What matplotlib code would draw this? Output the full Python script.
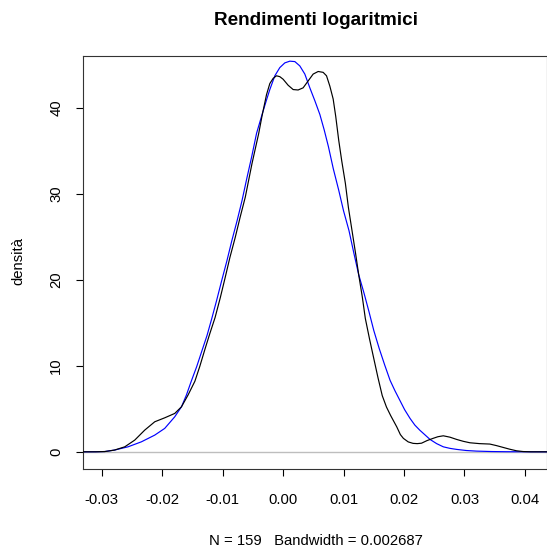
import matplotlib.pyplot as plt
import numpy as np

plt.rcParams['font.family'] = ['Liberation Sans', 'DejaVu Sans']

# kernel density of the log returns (black)
kde_x = [-0.0331, -0.0310, -0.0295, -0.0279, -0.0262, -0.02455, -0.0229, -0.02124,
         -0.01959, -0.01793, -0.01682, -0.01573, -0.0146, -0.0138, -0.0129, -0.0121,
         -0.01126, -0.0104, -0.0096, -0.0088, -0.00793, -0.0071, -0.00626, -0.00515,
         -0.00404, -0.0035, -0.00275, -0.0022, -0.00165, -0.0011, -0.00055, 0.0,
         0.00083, 0.00166, 0.00248, 0.00331, 0.00414, 0.00497, 0.0058, 0.00662,
         0.00718, 0.00773, 0.00828, 0.0087, 0.0092, 0.0097, 0.0103, 0.0108,
         0.0114, 0.0120, 0.0125, 0.0131, 0.0136, 0.0143, 0.0150, 0.0157,
         0.0164, 0.0171, 0.0178, 0.0188, 0.0194, 0.0199, 0.0207, 0.0215,
         0.0222, 0.0229, 0.0238, 0.0248, 0.0256, 0.0265, 0.0276, 0.0287,
         0.0298, 0.0309, 0.0325, 0.0342, 0.0353, 0.0364, 0.0375, 0.0386,
         0.0397, 0.0410, 0.0437]
kde_y = [0.0, 0.0, 0.03, 0.2, 0.58, 1.36, 2.52, 3.49,
         3.95, 4.46, 5.23, 6.6, 8.2, 9.9, 12.0, 13.8,
         15.6, 17.9, 20.22, 22.6, 24.9, 27.3, 29.6, 33.5,
         37.0, 39.0, 41.5, 42.8, 43.4, 43.7, 43.6, 43.3,
         42.6, 42.1, 42.05, 42.3, 43.1, 43.9, 44.2, 44.1,
         43.7, 42.5, 41.0, 39.0, 36.2, 33.8, 31.2, 28.4,
         25.7, 23.0, 20.6, 18.0, 15.5, 13.1, 10.84, 8.6,
         6.53, 5.2, 4.2, 2.9, 2.0, 1.56, 1.15, 0.98,
         0.95, 1.0, 1.3, 1.56, 1.75, 1.86, 1.7, 1.44,
         1.22, 1.05, 0.95, 0.9, 0.72, 0.51, 0.3, 0.12,
         0.03, 0.0, 0.0]

# normal density (blue)
norm_x = [-0.0331, -0.0310, -0.0295, -0.0279, -0.02566, -0.02345, -0.02124, -0.01959,
          -0.01793, -0.01682, -0.0160, -0.0152, -0.0143, -0.0135, -0.0126, -0.0118,
          -0.0110, -0.0102, -0.0093, -0.0085, -0.0076, -0.0068, -0.0060, -0.0052,
          -0.0044, -0.0034, -0.0027, -0.0022, -0.00137, -0.00055, 0.00028, 0.00111,
          0.00194, 0.00276, 0.00359, 0.00442, 0.00525, 0.00608, 0.0068, 0.0075,
          0.0083, 0.0092, 0.0100, 0.0109, 0.0117, 0.0125, 0.0134, 0.0142,
          0.0150, 0.0159, 0.0168, 0.0177, 0.0185, 0.0193, 0.0201, 0.0210,
          0.0218, 0.0226, 0.0235, 0.0243, 0.0254, 0.0265, 0.0276, 0.0287,
          0.0303, 0.0320, 0.0345, 0.0369, 0.0437]
norm_y = [0.0, 0.01, 0.03, 0.2, 0.58, 1.16, 1.94, 2.72,
          4.07, 5.23, 6.6, 8.2, 9.9, 11.6, 13.5, 15.5,
          17.6, 19.8, 22.2, 24.5, 26.9, 29.2, 31.8, 34.3,
          37.0, 39.4, 41.0, 42.1, 43.7, 44.65, 45.2, 45.4,
          45.35, 44.85, 43.9, 42.3, 40.8, 39.2, 37.4, 35.45,
          32.9, 30.4, 28.0, 25.7, 23.1, 20.6, 18.4, 16.3,
          14.1, 12.0, 10.1, 8.3, 7.1, 6.0, 4.9, 3.88,
          3.1, 2.52, 1.95, 1.44, 0.95, 0.58, 0.4, 0.28,
          0.15, 0.08, 0.03, 0.01, 0.0]

xticks = [-0.03, -0.02, -0.01, 0.00, 0.01, 0.02, 0.03, 0.04]
xtick_labels = ['-0.03', '-0.02', '-0.01', '0.00', '0.01', '0.02', '0.03', '0.04']
yticks = [0, 10, 20, 30, 40]

fig = plt.figure(figsize=(5.47, 5.49), dpi=100)
ax = fig.add_axes([0.1512, 0.1457, 0.8488, 0.7523])

ax.axhline(0, color='#bebebe', lw=1.0, zorder=1)
ax.plot(kde_x, kde_y, color='black', lw=0.85, zorder=3)
ax.plot(norm_x, norm_y, color='#0000ff', lw=0.85, zorder=2)

ax.set_xlim(-0.03316, 0.04366)
ax.set_ylim(-2.0, 46.0)

ax.set_xticks(xticks)
ax.set_xticklabels(xtick_labels)
ax.set_yticks(yticks)
ax.set_yticklabels([str(v) for v in yticks], rotation=90, va='center')
ax.tick_params(direction='out', length=5, width=0.8, labelsize=10.7)
ax.tick_params(axis='x', pad=12)
ax.tick_params(axis='y', pad=9)
for s in ax.spines.values():
    s.set_linewidth(0.8)
    s.set_color('#333333')

fig.text(0.577, 0.962, 'Rendimenti logaritmici', ha='center', va='center',
         fontsize=13.6, fontweight='bold')
fig.text(0.577, 0.015, 'N = 159   Bandwidth = 0.002687', ha='center', va='center',
         fontsize=10.7)
fig.text(0.033, 0.524, 'densità', ha='center', va='center', rotation=90,
         fontsize=10.7)

fig.savefig('out.png', dpi=100)
